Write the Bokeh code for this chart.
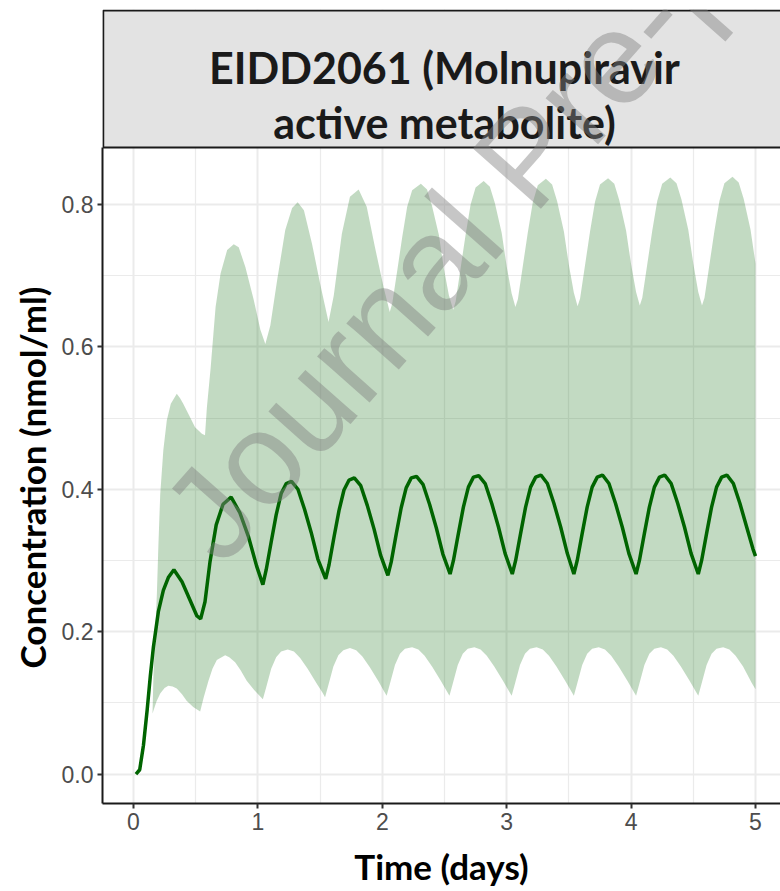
from bokeh.plotting import figure
from bokeh.models import FixedTicker, Range1d, PrintfTickFormatter, Title
from bokeh.core.properties import value
from bokeh.embed import file_html
from bokeh.resources import INLINE

# ---------------- data ----------------
title_lines = ["EIDD2061 (Molnupiravir", "active metabolite)"]
x_label = "Time (days)"
y_label = "Concentration (nmol/ml)"
watermark = "Journal Pre-proof"
x_ticks = [0, 1, 2, 3, 4, 5]
x_minor = [0.5, 1.5, 2.5, 3.5, 4.5]
y_ticks = [0.0, 0.2, 0.4, 0.6, 0.8]
y_minor = [0.1, 0.3, 0.5, 0.7]

median_t = [0.02, 0.05, 0.08, 0.11, 0.135, 0.16, 0.20, 0.24, 0.28, 0.325, 0.39, 0.455,
            0.51, 0.54, 0.575, 0.615, 0.665, 0.72, 0.785, 0.855, 0.925, 0.99, 1.04,
            1.067, 1.107, 1.147, 1.187, 1.228, 1.27, 1.322, 1.375, 1.429, 1.482, 1.545,
            1.572, 1.612, 1.652, 1.692, 1.733, 1.775, 1.827, 1.88, 1.934, 1.987, 2.045,
            2.072, 2.112, 2.152, 2.192, 2.233, 2.275, 2.327, 2.38, 2.434, 2.487, 2.545,
            2.572, 2.612, 2.652, 2.692, 2.733, 2.775, 2.827, 2.88, 2.934, 2.987, 3.045,
            3.072, 3.112, 3.152, 3.192, 3.233, 3.275, 3.327, 3.38, 3.434, 3.487, 3.54,
            3.567, 3.607, 3.647, 3.687, 3.728, 3.77, 3.822, 3.875, 3.929, 3.982, 4.04,
            4.067, 4.107, 4.147, 4.187, 4.228, 4.27, 4.322, 4.375, 4.429, 4.482, 4.54,
            4.567, 4.607, 4.647, 4.687, 4.728, 4.77, 4.822, 4.875, 4.929, 4.98, 5.0]
median_c = [0.000, 0.006, 0.040, 0.090, 0.137, 0.178, 0.228, 0.258, 0.276, 0.287, 0.270, 0.244,
            0.222, 0.218, 0.242, 0.298, 0.350, 0.379, 0.389, 0.367, 0.333, 0.292, 0.266,
            0.287, 0.326, 0.364, 0.394, 0.408, 0.411, 0.400, 0.372, 0.339, 0.302, 0.274,
            0.294, 0.333, 0.370, 0.399, 0.413, 0.416, 0.405, 0.377, 0.344, 0.307, 0.279,
            0.298, 0.337, 0.374, 0.402, 0.416, 0.418, 0.407, 0.379, 0.346, 0.309, 0.281,
            0.300, 0.338, 0.375, 0.403, 0.417, 0.419, 0.408, 0.380, 0.347, 0.310, 0.281,
            0.300, 0.338, 0.375, 0.403, 0.417, 0.420, 0.408, 0.380, 0.347, 0.310, 0.281,
            0.300, 0.338, 0.375, 0.403, 0.417, 0.420, 0.408, 0.380, 0.347, 0.310, 0.281,
            0.300, 0.338, 0.375, 0.403, 0.417, 0.420, 0.408, 0.380, 0.347, 0.310, 0.281,
            0.300, 0.338, 0.375, 0.403, 0.417, 0.420, 0.408, 0.380, 0.347, 0.316, 0.306]

upper_t = [0.153, 0.160, 0.175, 0.188, 0.200, 0.215, 0.240, 0.268, 0.300, 0.348,
           0.375, 0.400, 0.455, 0.495, 0.550, 0.575, 0.590, 0.620, 0.660, 0.700,
           0.753, 0.806, 0.846, 0.900, 0.967, 1.020, 1.060, 1.100, 1.155, 1.220,
           1.275, 1.320, 1.370, 1.435, 1.500, 1.568, 1.610, 1.675, 1.740, 1.810,
           1.875, 1.940, 2.010, 2.060,
           2.08, 2.12, 2.16, 2.20, 2.24, 2.31, 2.36, 2.40, 2.455, 2.495, 2.535, 2.57,
           2.59, 2.63, 2.67, 2.71, 2.75, 2.815, 2.865, 2.905, 2.96, 3.00, 3.04, 3.07,
           3.09, 3.13, 3.17, 3.21, 3.25, 3.315, 3.365, 3.405, 3.46, 3.50, 3.54, 3.57,
           3.59, 3.63, 3.67, 3.71, 3.75, 3.815, 3.865, 3.905, 3.96, 4.00, 4.04, 4.07,
           4.09, 4.13, 4.17, 4.21, 4.25, 4.315, 4.365, 4.405, 4.46, 4.50, 4.54, 4.57,
           4.59, 4.63, 4.67, 4.71, 4.75, 4.815, 4.865, 4.905, 4.96, 5.00]
upper_c = [0.085, 0.136, 0.200, 0.253, 0.320, 0.393, 0.455, 0.497, 0.520, 0.534,
           0.528, 0.520, 0.501, 0.487, 0.478, 0.476, 0.515, 0.570, 0.656, 0.703,
           0.736, 0.744, 0.740, 0.712, 0.666, 0.624, 0.604, 0.630, 0.694, 0.764,
           0.795, 0.803, 0.792, 0.745, 0.689, 0.635, 0.672, 0.759, 0.811, 0.821,
           0.797, 0.741, 0.684, 0.649,
           0.661, 0.707, 0.754, 0.797, 0.820, 0.829, 0.821, 0.798, 0.757, 0.710, 0.673, 0.652,
           0.664, 0.711, 0.758, 0.800, 0.824, 0.833, 0.825, 0.802, 0.760, 0.713, 0.675, 0.656,
           0.667, 0.714, 0.761, 0.803, 0.827, 0.836, 0.828, 0.805, 0.762, 0.715, 0.676, 0.657,
           0.668, 0.715, 0.762, 0.804, 0.828, 0.837, 0.829, 0.806, 0.763, 0.716, 0.677, 0.658,
           0.669, 0.716, 0.763, 0.805, 0.829, 0.838, 0.830, 0.807, 0.764, 0.717, 0.677, 0.658,
           0.669, 0.716, 0.763, 0.805, 0.830, 0.839, 0.831, 0.808, 0.765, 0.717]

lower_t = [0.153, 0.185, 0.215, 0.250, 0.280, 0.315, 0.348, 0.390, 0.427, 0.480,
           0.536, 0.565, 0.603, 0.635, 0.670, 0.737, 0.770, 0.817, 0.860, 0.910,
           0.970, 1.040,
           1.067, 1.107, 1.147, 1.187, 1.24, 1.29, 1.34, 1.40, 1.47, 1.52, 1.54,
           1.567, 1.607, 1.647, 1.687, 1.74, 1.79, 1.84, 1.90, 1.97, 2.015, 2.035,
           2.062, 2.102, 2.142, 2.182, 2.24, 2.29, 2.34, 2.40, 2.47, 2.52, 2.54,
           2.567, 2.607, 2.647, 2.687, 2.74, 2.79, 2.84, 2.90, 2.97, 3.02, 3.04,
           3.067, 3.107, 3.147, 3.187, 3.24, 3.29, 3.34, 3.40, 3.47, 3.52, 3.54,
           3.567, 3.607, 3.647, 3.687, 3.74, 3.79, 3.84, 3.90, 3.97, 4.02, 4.04,
           4.067, 4.107, 4.147, 4.187, 4.24, 4.29, 4.34, 4.40, 4.47, 4.52, 4.54,
           4.567, 4.607, 4.647, 4.687, 4.74, 4.79, 4.84, 4.90, 4.97, 5.00]
lower_c = [0.085, 0.102, 0.113, 0.121, 0.124, 0.123, 0.120, 0.112, 0.103, 0.094,
           0.088, 0.108, 0.131, 0.148, 0.160, 0.167, 0.164, 0.157, 0.146, 0.131,
           0.118, 0.105,
           0.122, 0.148, 0.164, 0.172, 0.175, 0.172, 0.163, 0.148, 0.128, 0.114, 0.108,
           0.125, 0.151, 0.167, 0.174, 0.177, 0.174, 0.165, 0.150, 0.130, 0.116, 0.110,
           0.127, 0.153, 0.169, 0.176, 0.178, 0.175, 0.166, 0.151, 0.131, 0.116, 0.110,
           0.127, 0.153, 0.169, 0.176, 0.178, 0.175, 0.166, 0.151, 0.131, 0.116, 0.110,
           0.127, 0.153, 0.169, 0.176, 0.178, 0.175, 0.166, 0.151, 0.131, 0.116, 0.110,
           0.127, 0.153, 0.169, 0.176, 0.178, 0.175, 0.166, 0.151, 0.131, 0.116, 0.110,
           0.127, 0.153, 0.169, 0.176, 0.178, 0.175, 0.166, 0.151, 0.131, 0.116, 0.110,
           0.127, 0.153, 0.169, 0.176, 0.178, 0.175, 0.166, 0.151, 0.128, 0.119]

# ---------------- layout constants ----------------
X0, X1 = -0.249, 5.201
Y0, Y1 = -0.0414, 1.0739
PANEL_TOP = 0.880

p = figure(width=780, height=890, output_backend="svg", toolbar_location=None,
           x_range=Range1d(X0, X1), y_range=Range1d(Y0, Y1),
           min_border_left=102, min_border_right=0, min_border_top=9, min_border_bottom=87)
p.outline_line_color = None
p.background_fill_color = "white"
p.border_fill_color = "white"

# grid
for g, tk, mn in ((p.xgrid, x_ticks, x_minor), (p.ygrid, y_ticks, y_minor)):
    g.ticker = FixedTicker(ticks=tk, minor_ticks=mn)
    g.grid_line_color = "#ebebeb"
    g.grid_line_width = 2
    g.minor_grid_line_color = "#ebebeb"
    g.minor_grid_line_width = 1.2

# ribbon and median
p.patch(x=upper_t + lower_t[::-1], y=upper_c + lower_c[::-1],
        fill_color="#006400", fill_alpha=0.24, line_color=None)
p.line(median_t, median_c, line_color="#006400", line_width=3.5)

# facet strip
p.quad(left=[-0.243], right=[X1 + 0.5], bottom=[PANEL_TOP], top=[1.0725],
       fill_color="#e3e3e3", line_color="#1a1a1a", line_width=2)
p.text(x=[2.5, 2.5], y=[0.9928, 0.9156], text=title_lines,
       text_font=value("Lato"), text_font_style="bold", text_font_size="43px",
       text_color="#1a1a1a", text_align="center", text_baseline="alphabetic")

# watermark
p.text(x=[0.442], y=[0.331], text=[watermark], angle=0.8465,
       text_font=value("Liberation Sans"), text_font_size="132px",
       text_color="#808080", text_alpha=0.45, text_align="left", text_baseline="alphabetic")

# axes
p.xaxis.ticker = FixedTicker(ticks=x_ticks)
p.yaxis.ticker = FixedTicker(ticks=y_ticks)
p.yaxis.formatter = PrintfTickFormatter(format="%.1f")
p.yaxis.bounds = (Y0, PANEL_TOP)
p.xaxis.axis_label = x_label
for ax in (p.xaxis, p.yaxis):
    ax.axis_line_color = "#1a1a1a"
    ax.axis_line_width = 2
    ax.major_tick_line_color = "#333333"
    ax.major_tick_line_width = 2
    ax.major_tick_out = 5
    ax.major_tick_in = 0
    ax.minor_tick_line_color = None
    ax.major_label_text_font = "Liberation Sans"
    ax.major_label_text_font_size = "23px"
    ax.major_label_text_color = "#4d4d4d"
    ax.major_label_standoff = 4
    ax.axis_label_text_font = "Lato"
    ax.axis_label_text_font_style = "bold"
    ax.axis_label_text_font_size = "35px"
    ax.axis_label_text_color = "black"
p.xaxis.axis_label_standoff = 12

# y-axis title: starts at the panel's lower part (the strip is inside the frame)
p.add_layout(Title(text=y_label, align="left", vertical_align="middle", offset=135,
                   text_font="Lato", text_font_style="bold", text_font_size="35px",
                   text_color="black", standoff=10), "left")

open("out.html", "w").write(file_html(p, INLINE))
